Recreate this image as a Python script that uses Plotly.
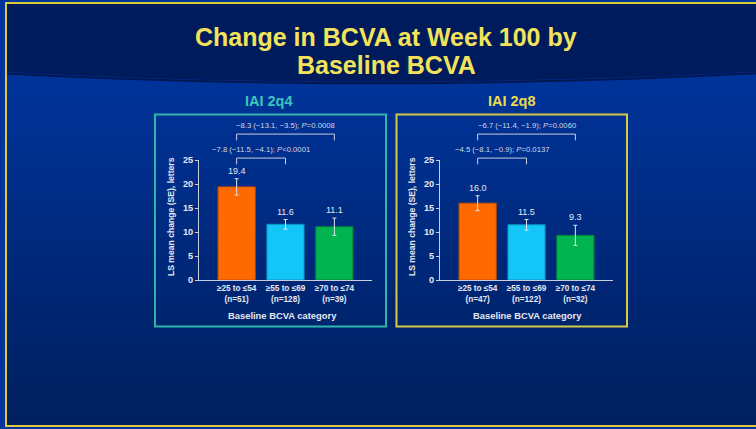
import plotly.graph_objects as go

W, H = 756, 429

# ---------------- data ----------------
categories_2q4 = ["≥25 to ≤54<br>(n=51)", "≥55 to ≤69<br>(n=128)", "≥70 to ≤74<br>(n=39)"]
categories_2q8 = ["≥25 to ≤54<br>(n=47)", "≥55 to ≤69<br>(n=122)", "≥70 to ≤74<br>(n=32)"]
means_2q4 = [19.4, 11.6, 11.1]
se_2q4 = [1.7, 1.0, 1.8]
means_2q8 = [16.0, 11.5, 9.3]
se_2q8 = [1.55, 1.1, 2.1]
y_ticks = [0, 5, 10, 15, 20, 25]
comparisons_2q4 = [(0, 2, "−8.3 (−13.1, −3.5); <i>P</i>=0.0008"),
                   (0, 1, "−7.8 (−11.5, −4.1); <i>P</i>&lt;0.0001")]
comparisons_2q8 = [(0, 2, "−6.7 (−11.4, −1.9); <i>P</i>=0.0060"),
                   (0, 1, "−4.5 (−8.1, −0.9); <i>P</i>=0.0137")]
panel_titles = ["IAI 2q4", "IAI 2q8"]
slide_title_lines = ["Change in BCVA at Week 100 by", "Baseline BCVA"]

# ---------------- style ----------------
FONT = "Liberation Sans, Arial, sans-serif"
bar_colors = ["#ff6a00", "#14c6f7", "#00b550"]
bar_lines = ["#c84f00", "#0b93c0", "#00853a"]
LIGHT = "#e4e8f2"
AX = "#c9cede"
YELLOW = "#f3e35a"
TEAL = "#3cc6bd"


def px(x):
    return x / W


def py(y):
    return 1 - y / H


Y0_PX, Y25_PX = 280, 160  # pixel rows of y=0 and y=25
ydom = [py(Y0_PX), py(Y25_PX)]
xdoms = [[px(199), px(372)], [px(440), px(613)]]


def yval_to_paper(v):
    return ydom[0] + v / 25 * (ydom[1] - ydom[0])


fig = go.Figure()

shapes = []
annotations = []


def note(**kw):
    kw.setdefault("showarrow", False)
    kw.setdefault("xanchor", "center")
    kw.setdefault("yanchor", "middle")
    annotations.append(kw)


# ---------- slide background ----------
top_c = (0, 52, 156)
bot_c = (0, 31, 94)
n = 30
y_start, y_end = 60, 426
for i in range(n):
    t = i / (n - 1)
    c = tuple(int(round(a + (b - a) * t)) for a, b in zip(top_c, bot_c))
    ya = y_start + (y_end - y_start) * i / n
    yb = min(y_end, y_start + (y_end - y_start) * (i + 1) / n + 3)
    shapes.append(dict(type="rect", xref="paper", yref="paper", layer="below",
                       x0=px(6), x1=1.02, y0=py(yb), y1=py(ya),
                       fillcolor="rgb(%d,%d,%d)" % c, line=dict(width=0)))

# header (dark band with slight curve)
hdr_path = "M {0},{1} L {2},{1} L {2},{3} Q {4},{5} {0},{6} Z".format(
    px(6), py(3), 1.02, py(71), px(380), py(92), py(72))
shapes.append(dict(type="path", xref="paper", yref="paper", layer="below",
                   path=hdr_path, fillcolor="#001b5b", line=dict(width=0)))
shadow_path = "M {0},{1} Q {2},{3} {4},{5}".format(px(6), py(73.5), px(380), py(93.5), 1.02, py(72.5))
shapes.append(dict(type="path", xref="paper", yref="paper", layer="below",
                   path=shadow_path, line=dict(color="#00174f", width=2)))

# yellow slide border
shapes.append(dict(type="rect", xref="paper", yref="paper", layer="below",
                   x0=px(6), x1=1.05, y0=py(426), y1=py(3),
                   line=dict(color="#d9cb3c", width=2), fillcolor="rgba(0,0,0,0)"))

# panel frames
shapes.append(dict(type="rect", xref="paper", yref="paper", layer="below",
                   x0=px(155), x1=px(386), y0=py(326.5), y1=py(114.5),
                   line=dict(color="#2fb5ab", width=2)))
shapes.append(dict(type="rect", xref="paper", yref="paper", layer="below",
                   x0=px(396.5), x1=px(627), y0=py(326.5), y1=py(114.5),
                   line=dict(color="#d6c947", width=2)))

for line_txt, yy in zip(slide_title_lines, [36.5, 65]):
    note(text="<b>" + line_txt + "</b>", xref="paper", yref="paper",
         x=px(386), y=py(yy), font=dict(family=FONT, size=25, color=YELLOW))

panels = [
    (categories_2q4, means_2q4, se_2q4, comparisons_2q4, TEAL, "", ""),
    (categories_2q8, means_2q8, se_2q8, comparisons_2q8, "#e9dc4c", "2", "2"),
]

# bracket layout (in y units of the chart scale)
BR_TOP = [30.4, 25.4]
BR_LEG = 1.3
BR_TXT = [32.2, 27.2]

for k, (cats, means, ses, comps, tcol, xs, ys) in enumerate(panels):
    xa = "x" + xs
    ya = "y" + ys
    fig.add_trace(go.Bar(
        x=cats, y=means, xaxis=xa, yaxis=ya,
        marker=dict(color=bar_colors, line=dict(color=bar_lines, width=1)),
        error_y=dict(type="data", array=ses, visible=True, color="#dfe3ee",
                     thickness=1, width=2),
        showlegend=False, hoverinfo="skip"))
    # value labels
    for c, m, s in zip(cats, means, ses):
        note(text="%.1f" % m, x=c, y=m + s, xref=xa, yref=ya,
             yanchor="bottom", yshift=1,
             font=dict(family=FONT, size=9, color=LIGHT))
    # brackets
    for j, (a, b, txt) in enumerate(comps):
        top = yval_to_paper(BR_TOP[j])
        leg = yval_to_paper(BR_TOP[j] - BR_LEG)
        shapes.append(dict(type="path", xref=xa, yref="paper",
                           path="M {a},{l} L {a},{t} L {b},{t} L {b},{l}".format(
                               a=a, b=b, l=leg, t=top),
                           line=dict(color="#c9cfe0", width=1)))
        note(text=txt, x=(a + b) / 2, y=yval_to_paper(BR_TXT[j]),
             xref=xa, yref="paper",
             font=dict(family=FONT, size=7.7, color="#d3d9e8"))
    # panel titles
    note(text="<b>" + panel_titles[k] + "</b>", xref="paper", yref="paper",
         x=px([269, 511.5][k]), y=py(100.5),
         font=dict(family=FONT, size=14.5, color=tcol))
    # axis titles
    note(text="<b>Baseline BCVA category</b>", xref="paper", yref="paper",
         x=px([282, 527][k]), y=py(315.5),
         font=dict(family=FONT, size=9.4, color=LIGHT))
    note(text="<b>LS mean change (SE), letters</b>", xref="paper", yref="paper",
         x=px([171, 412][k]), y=py(217), textangle=-90,
         font=dict(family=FONT, size=8.6, color=LIGHT))

axis_common_x = dict(range=[-0.77, 2.77], showline=True, linecolor=AX, linewidth=1,
                     ticks="", showgrid=False, zeroline=False, automargin=False,
                     tickfont=dict(family=FONT, size=8.2, color=LIGHT), fixedrange=True)
axis_common_y = dict(range=[0, 25], tickvals=y_ticks,
                     ticktext=["<b>%d</b>" % v for v in y_ticks],
                     showline=True, linecolor=AX, linewidth=1,
                     ticks="outside", ticklen=3, tickcolor=AX, showgrid=False, zeroline=False,
                     automargin=False, tickfont=dict(family=FONT, size=9.2, color=LIGHT),
                     domain=ydom, fixedrange=True)

fig.update_layout(
    width=W, height=H, autosize=False,
    margin=dict(l=0, r=0, t=0, b=0),
    paper_bgcolor="#013399", plot_bgcolor="rgba(0,0,0,0)",
    bargap=0.24,
    xaxis=dict(axis_common_x, domain=xdoms[0], anchor="y",
               tickvals=categories_2q4, ticktext=["<b>%s</b>" % c for c in categories_2q4]),
    yaxis=dict(axis_common_y, anchor="x"),
    xaxis2=dict(axis_common_x, domain=xdoms[1], anchor="y2",
                tickvals=categories_2q8, ticktext=["<b>%s</b>" % c for c in categories_2q8]),
    yaxis2=dict(axis_common_y, anchor="x2"),
    shapes=shapes, annotations=annotations,
    font=dict(family=FONT),
)

fig.write_html("out.html", config={"displayModeBar": False},
               post_script="document.body.style.margin='0px';document.body.style.overflow='hidden';")
